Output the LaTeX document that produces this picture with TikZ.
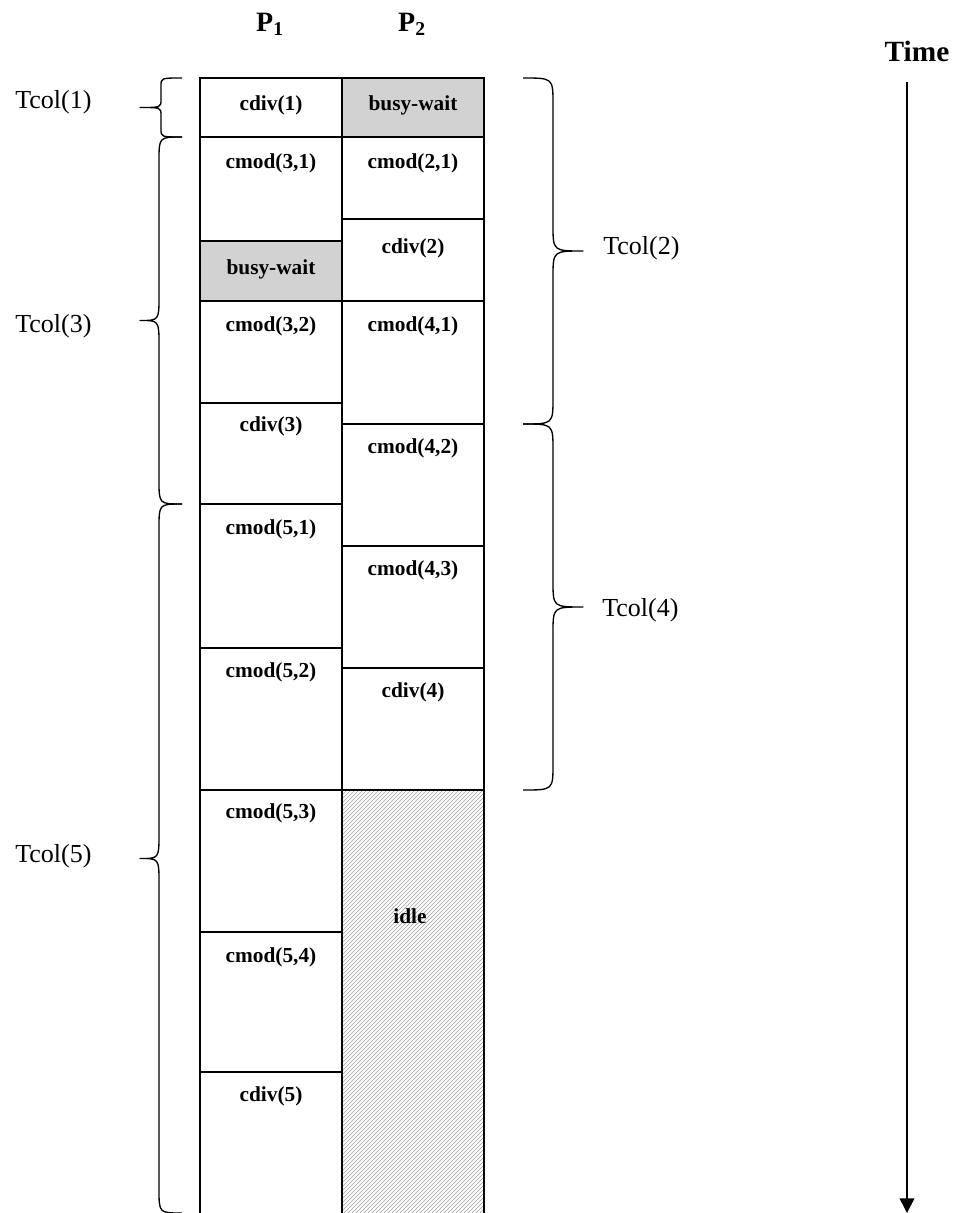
\documentclass[tikz,border=0pt]{standalone}
\usepackage{fontspec}
\setmainfont{Liberation Serif}
\usetikzlibrary{patterns,arrows.meta}
\newcommand\mybrace[7]{%
  \draw[bracel] (#1,#4) .. controls (#2,#4) .. (#2,#4+#6)
    -- (#2,{(#4+#5)/2-#6}) .. controls (#2,{(#4+#5)/2}) .. (#3,{(#4+#5)/2})
    .. controls (#2,{(#4+#5)/2}) .. (#2,{(#4+#5)/2+#6})
    -- (#2,#5-#6) .. controls (#2,#5) .. (#1,#5);
  \coordinate (#7) at (#3,{(#4+#5)/2});}
\begin{document}
\begin{tikzpicture}[x=0.75pt,y=-0.75pt,
  cell/.style={draw=black,line width=1.2pt},
  busy/.style={cell,fill=gray!35},
  idlebox/.style={cell,pattern=north east lines,pattern color=gray!75},
  celltext/.style={font=\fontsize{16}{18}\selectfont\bfseries,inner sep=0pt},
  tlabel/.style={font=\fontsize{19.5}{22}\selectfont,anchor=west,inner sep=0pt},
  plabel/.style={font=\fontsize{21}{23}\selectfont\bfseries,inner sep=0pt},
  bracel/.style={line width=1pt,line join=round},
]
\useasboundingbox (0,0) rectangle (955,1213);

% processor headers
\node[plabel] (p1) at (270,24) {P\textsubscript{1}};
\node[plabel] (p2) at (412,24) {P\textsubscript{2}};

% P1 column
\draw[cell]  (200,78)  rectangle (342,137);
\draw[cell]  (200,137) rectangle (342,241);
\draw[busy]  (200,241) rectangle (342,301);
\draw[cell]  (200,301) rectangle (342,403);
\draw[cell]  (200,403) rectangle (342,504);
\draw[cell]  (200,504) rectangle (342,648);
\draw[cell]  (200,648) rectangle (342,790);
\draw[cell]  (200,790) rectangle (342,932);
\draw[cell]  (200,932) rectangle (342,1072);
\draw[cell]  (200,1072) rectangle (342,1215);

% P2 column
\draw[busy]  (342,78)  rectangle (484,137);
\draw[cell]  (342,137) rectangle (484,219);
\draw[cell]  (342,219) rectangle (484,301);
\draw[cell]  (342,301) rectangle (484,424);
\draw[cell]  (342,424) rectangle (484,546);
\draw[cell]  (342,546) rectangle (484,668);
\draw[cell]  (342,668) rectangle (484,790);
\draw[idlebox] (342,790) rectangle (484,1215);

% P1 texts
\node[celltext] (a1)  at (271,105) {cdiv(1)};
\node[celltext] (a2)  at (271,163) {cmod(3,1)};
\node[celltext] (a3)  at (271,269) {busy-wait};
\node[celltext] (a4)  at (271,326) {cmod(3,2)};
\node[celltext] (a5)  at (271,426) {cdiv(3)};
\node[celltext] (a6)  at (271,529) {cmod(5,1)};
\node[celltext] (a7)  at (271,672) {cmod(5,2)};
\node[celltext] (a8)  at (271,813) {cmod(5,3)};
\node[celltext] (a9)  at (271,957) {cmod(5,4)};
\node[celltext] (a10) at (271,1096) {cdiv(5)};

% P2 texts
\node[celltext] (b1) at (413,105) {busy-wait};
\node[celltext] (b2) at (413,163) {cmod(2,1)};
\node[celltext] (b3) at (413,248) {cdiv(2)};
\node[celltext] (b4) at (413,326) {cmod(4,1)};
\node[celltext] (b5) at (413,448) {cmod(4,2)};
\node[celltext] (b6) at (413,570) {cmod(4,3)};
\node[celltext] (b7) at (413,692) {cdiv(4)};
\node[celltext] (b8) at (410,916) {idle};

% left braces
\mybrace{182}{161}{140}{78}{137}{8}{k1}
\mybrace{182}{159}{140}{137}{504}{24}{k3}
\mybrace{182}{159}{140}{504}{1213}{24}{k5}
% right braces
\mybrace{523}{553}{583}{78}{424}{26}{k2}
\mybrace{523}{553}{583}{424}{790}{26}{k4}

% brace labels
\node[tlabel] (t1) at (15,102) {Tcol(1)};
\node[tlabel] (t3) at (15,326) {Tcol(3)};
\node[tlabel] (t5) at (15,856) {Tcol(5)};
\node[tlabel] (t2) at (603,248) {Tcol(2)};
\node[tlabel] (t4) at (602,610) {Tcol(4)};

% time axis
\node[font=\fontsize{22}{24}\selectfont\bfseries,inner sep=0pt] (time) at (917,51) {Time};
\coordinate (ts) at (907,82);
\coordinate (te) at (907,1213);
\draw[line width=1.2pt,-{Triangle[width=11pt,length=11pt]}] (ts) -- (te);
\end{tikzpicture}
\end{document}
